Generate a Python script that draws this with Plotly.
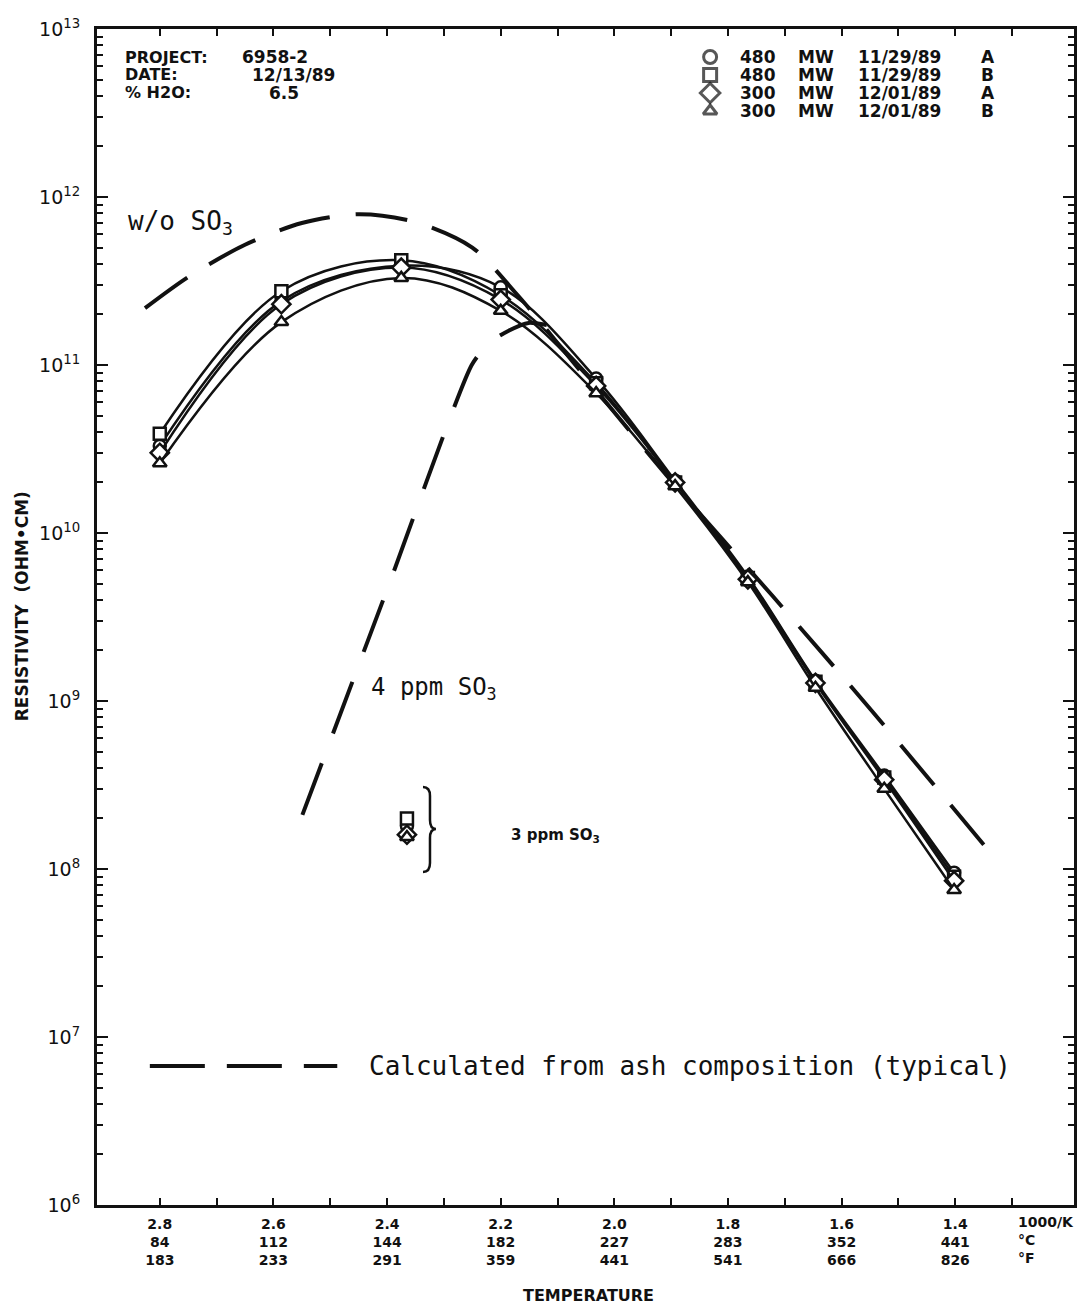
import plotly.graph_objects as go

# ---------------- data ----------------
inv_T = [2.80, 2.586, 2.375, 2.20, 2.032, 1.893, 1.765, 1.646, 1.525, 1.402]   # 1000/K
res_480_A = [3.3e10, 2.4e11, 3.9e11, 2.9e11, 8.3e10, 2.05e10, 5.5e9, 1.32e9, 3.6e8, 9.5e7]
res_480_B = [3.9e10, 2.75e11, 4.2e11, 2.6e11, 7.8e10, 2.0e10, 5.4e9, 1.3e9, 3.5e8, 9.0e7]
res_300_A = [3.0e10, 2.3e11, 3.8e11, 2.45e11, 7.5e10, 2.0e10, 5.3e9, 1.28e9, 3.4e8, 8.5e7]
res_300_B = [2.6e10, 1.8e11, 3.3e11, 2.1e11, 6.8e10, 1.9e10, 5.1e9, 1.2e9, 3.0e8, 7.5e7]

so3_inv_T = [2.365]                      # 3 ppm SO3 injection point
so3_480_A = [1.8e8]
so3_480_B = [2.0e8]
so3_300_A = [1.6e8]
so3_300_B = [1.55e8]

calc_wo_x = [2.826, 2.75, 2.65, 2.55, 2.45, 2.35, 2.25, 2.17, 2.05, 1.90, 1.721, 1.55, 1.332]
calc_wo_y = [2.18e11, 3.34e11, 5.2e11, 7.0e11, 7.9e11, 7.1e11, 5.0e11, 2.6e11, 8.4e10, 2.05e10, 4.2e9, 9.0e8, 1.18e8]

calc_4ppm_x = [2.549, 2.40, 2.251, 2.221, 2.186, 2.151, 2.119]
calc_4ppm_y = [2.1e8, 4.6e9, 1.0e11, 1.35e11, 1.6e11, 1.78e11, 1.73e11]

series_names = ["480 MW 11/29/89 A", "480 MW 11/29/89 B", "300 MW 12/01/89 A", "300 MW 12/01/89 B"]
series_symbols = ["circle", "square", "diamond", "triangle-up"]

x_tick_vals = [2.8, 2.6, 2.4, 2.2, 2.0, 1.8, 1.6, 1.4]
x_tick_degC = ["84", "112", "144", "182", "227", "283", "352", "441"]
x_tick_degF = ["183", "233", "291", "359", "441", "541", "666", "826"]
x_minor_vals = [2.7, 2.5, 2.3, 2.1, 1.9, 1.7, 1.5, 1.3]
y_decades = [6, 7, 8, 9, 10, 11, 12, 13]

# ---------------- layout helpers ----------------
W_FIG, H_FIG = 1089, 1309
L, R, T, B = 97, 1077, 29, 1205


def px(x):
    return (x - L) / (R - L)


def py(y):
    return (B - y) / (B - T)


BLACK = "#111111"
MONO = "DejaVu Sans Mono, monospace"
BOLD = "DejaVu Sans, Arial, sans-serif"

fig = go.Figure()

all_series = [res_480_A, res_480_B, res_300_A, res_300_B]
all_so3 = [so3_480_A, so3_480_B, so3_300_A, so3_300_B]
sizes = [12, 12, 14, 12]

# calculated curves (dashed)
fig.add_trace(go.Scatter(x=calc_wo_x, y=calc_wo_y, mode="lines",
                         line=dict(color=BLACK, width=4, dash="52px,26px", shape="spline", smoothing=0.8),
                         showlegend=False, hoverinfo="skip"))
fig.add_trace(go.Scatter(x=calc_4ppm_x, y=calc_4ppm_y, mode="lines",
                         line=dict(color=BLACK, width=4, dash="55px,32px", shape="spline", smoothing=0.6),
                         showlegend=False, hoverinfo="skip"))

for name, sym, ys, so3, sz in zip(series_names, series_symbols, all_series, all_so3, sizes):
    fig.add_trace(go.Scatter(
        x=inv_T, y=ys, mode="lines+markers", name=name,
        line=dict(color=BLACK, width=2.5, shape="spline", smoothing=1.0),
        marker=dict(symbol=sym, size=sz, color="white", line=dict(color=BLACK, width=2.5)),
        showlegend=False))
    fig.add_trace(go.Scatter(
        x=so3_inv_T, y=so3, mode="markers", name=name + " (3 ppm SO3)",
        marker=dict(symbol=sym, size=sz, color="white", line=dict(color=BLACK, width=2.5)),
        showlegend=False))

# legend symbols on an overlay axis spanning the plot area
leg_rows = [57, 75, 93, 111]
fig.add_trace(go.Scatter(
    x=[px(712)] * 4, y=[py(r) for r in leg_rows], mode="markers",
    marker=dict(symbol=series_symbols, size=[13, 13, 15, 12], color="white",
                line=dict(color=BLACK, width=3)),
    xaxis="x2", yaxis="y2", showlegend=False, hoverinfo="skip"))

annotations = []


def ann(text, x, y, size, family, xanchor="left", yanchor="middle", angle=0, align="center"):
    annotations.append(dict(text=text, x=px(x), y=py(y), xref="paper", yref="paper",
                            xanchor=xanchor, yanchor=yanchor, showarrow=False, textangle=angle,
                            align=align, font=dict(size=size, family=family, color=BLACK)))


# legend text
for row, name in zip(leg_rows, series_names):
    toks = name.split(" ")
    ann("<b>%s</b>" % toks[0], 740, row, 17, BOLD)
    ann("<b>%s</b>" % toks[1], 798, row, 17, BOLD)
    ann("<b>%s</b>" % toks[2], 858, row, 17, BOLD)
    ann("<b>%s</b>" % toks[3], 982, row, 17, BOLD)

# project block
ann("<b>PROJECT:</b>", 123, 57, 16, BOLD)
ann("<b>6958-2</b>", 240, 57, 17, BOLD)
ann("<b>DATE:</b>", 123, 75, 16, BOLD)
ann("<b>12/13/89</b>", 250, 75, 17, BOLD)
ann("<b>% H2O:</b>", 123, 93, 16, BOLD)
ann("<b>6.5</b>", 268, 93, 17, BOLD)

# curve labels
ann("w/o SO<sub>3</sub>", 126, 222, 26, MONO)
ann("4 ppm SO<sub>3</sub>", 370, 688, 24, MONO)
ann("<b>3 ppm SO<sub>3</sub></b>", 510, 835, 15, BOLD)
ann("Calculated from ash composition (typical)", 368, 1066, 26, MONO)

# axis titles and unit labels
ann("<b>TEMPERATURE</b>", 590, 1295, 16, BOLD, xanchor="center")
ann("<b>RESISTIVITY  (OHM\u2022CM)</b>", 22, 606, 17, BOLD, xanchor="center", angle=-90)
ann("<b>1000/K<br>\u00b0C<br>\u00b0F</b>", 1019, 1212, 14, BOLD, yanchor="top", align="left")

# dashed legend sample
shapes = [dict(type="line", xref="paper", yref="paper", x0=px(150), x1=px(338), y0=py(1066), y1=py(1066),
               line=dict(color=BLACK, width=4, dash="55px,22px"))]

# brace grouping the 3 ppm SO3 points
bx, btop, bmid, bbot = 424, 787, 829, 872
brace_pts = [
    ("M", [(bx, btop)]),
    ("Q", [(bx + 7, btop), (bx + 7, btop + 9)]),
    ("L", [(bx + 7, bmid - 9)]),
    ("Q", [(bx + 7, bmid), (bx + 13, bmid)]),
    ("Q", [(bx + 7, bmid), (bx + 7, bmid + 9)]),
    ("L", [(bx + 7, bbot - 9)]),
    ("Q", [(bx + 7, bbot), (bx, bbot)]),
]
path = " ".join(cmd + " " + " ".join("%.5f,%.5f" % (px(a), py(b)) for a, b in pts) for cmd, pts in brace_pts)
shapes.append(dict(type="path", xref="paper", yref="paper", path=path,
                   line=dict(color=BLACK, width=2.5)))

x_ticktext = ["<b>%s<br>%s<br>%s</b>" % (a, b, c) for a, b, c in
              zip(["%.1f" % v for v in x_tick_vals], x_tick_degC, x_tick_degF)]
y_minor = [m * 10 ** d for d in y_decades[:-1] for m in range(2, 10)]

fig.update_layout(
    width=W_FIG, height=H_FIG,
    margin=dict(l=L, r=W_FIG - R, t=T, b=H_FIG - B),
    paper_bgcolor="white", plot_bgcolor="white",
    showlegend=False,
    annotations=annotations, shapes=shapes,
    xaxis=dict(range=[2.9105, 1.191], tickmode="array", tickvals=x_tick_vals, ticktext=x_ticktext,
               ticks="inside", ticklen=7, tickwidth=2, tickcolor=BLACK,
               minor=dict(tickmode="array", tickvals=x_minor_vals, ticks="inside", ticklen=7,
                          tickwidth=2, tickcolor=BLACK, showgrid=False),
               showline=True, linewidth=3, linecolor=BLACK, mirror="allticks",
               showgrid=False, zeroline=False, ticklabelstandoff=4,
               tickfont=dict(size=14, family=BOLD, color=BLACK)),
    yaxis=dict(type="log", range=[6, 13], tickmode="array",
               tickvals=[10 ** d for d in y_decades],
               ticktext=["10<sup>%d</sup>" % d for d in y_decades],
               ticks="inside", ticklen=11, tickwidth=2, tickcolor=BLACK,
               minor=dict(tickmode="array", tickvals=y_minor, ticks="inside", ticklen=6,
                          tickwidth=2, tickcolor=BLACK, showgrid=False),
               showline=True, linewidth=3, linecolor=BLACK, mirror="allticks",
               showgrid=False, zeroline=False, ticklabelstandoff=10,
               tickfont=dict(size=19, family="DejaVu Sans, sans-serif", color=BLACK)),
    xaxis2=dict(overlaying="x", range=[0, 1], visible=False, fixedrange=True),
    yaxis2=dict(overlaying="y", range=[0, 1], visible=False, fixedrange=True),
)

fig.write_html("out.html")
